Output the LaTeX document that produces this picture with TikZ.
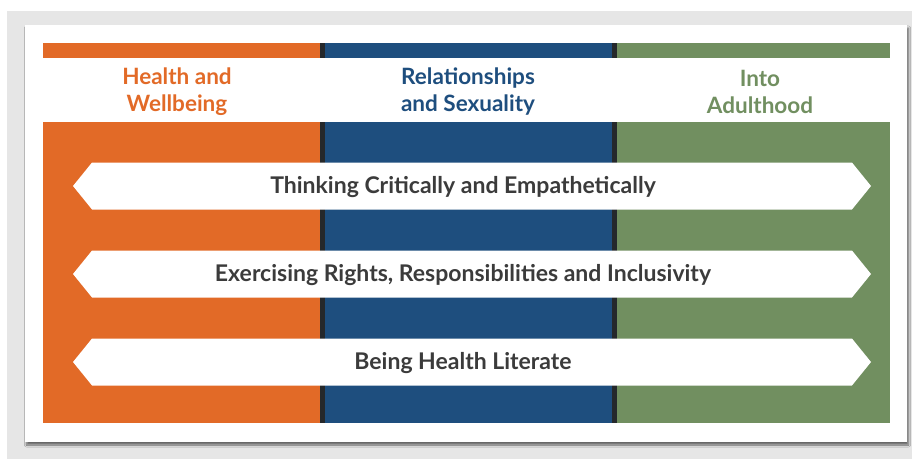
\documentclass[tikz,border=0pt]{standalone}
\usepackage{fontspec}
\setmainfont{Lato}
\usetikzlibrary{shapes.arrows,shadows.blur}

\definecolor{healthorange}{HTML}{E26A27}
\definecolor{relblue}{HTML}{1E4E7E}
\definecolor{adultgreen}{HTML}{718F60}
\definecolor{splitdark}{HTML}{25282B}
\definecolor{textgrey}{HTML}{3B3B3B}
\definecolor{pagegrey}{HTML}{E6E6E6}

\begin{document}
\begin{tikzpicture}[x=1pt, y=-1pt,
    head/.style={font=\bfseries\fontsize{22.5}{27}\selectfont, align=center},
    band/.style={double arrow, fill=white, double arrow head extend=0pt,
      double arrow tip angle=102, minimum height=798pt, minimum width=47pt,
      inner sep=0pt},
    bandtext/.style={text=textgrey, font=\bfseries\fontsize{23}{25}\selectfont}
  ]
  \useasboundingbox (0,0) rectangle (912,459);

  % page and card
  \fill[pagegrey] (7,11) rectangle (912,459);
  \fill[white, blur shadow={shadow xshift=1.5pt, shadow yshift=-3pt,
    shadow blur steps=6, shadow opacity=55}] (25,25) rectangle (907,442);

  % column strips and blocks
  \fill[healthorange] (43,43) rectangle (320,58);
  \fill[relblue] (325,43) rectangle (612,58);
  \fill[adultgreen] (617,43) rectangle (890,58);
  \fill[healthorange] (43,122) rectangle (320,423);
  \fill[relblue] (325,122) rectangle (612,423);
  \fill[adultgreen] (617,122) rectangle (890,423);

  % dark splits
  \fill[splitdark] (320,43) rectangle (325,58);
  \fill[splitdark] (612,43) rectangle (617,58);
  \fill[splitdark] (320,122) rectangle (325,423);
  \fill[splitdark] (612,122) rectangle (617,423);

  % headings
  \node[head, text=healthorange] (health) at (177,92) {Health and\\Wellbeing};
  \node[head, text=relblue] (relations) at (468,92) {Relationships\\and Sexuality};
  \node[head, text=adultgreen] (adult) at (760,92) {Into\\Adulthood};

  % cross-cutting bands
  \node[band] (thinking) at (472,186) {};
  \node[band] (rights) at (472,274) {};
  \node[band] (literate) at (472,362) {};
  \node[bandtext] (thinking_txt) at ([xshift=-9pt, yshift=-1pt]thinking.center) {Thinking Critically and Empathetically};
  \node[bandtext] (rights_txt) at ([xshift=-9pt, yshift=-1pt]rights.center) {Exercising Rights, Responsibilities and Inclusivity};
  \node[bandtext] (literate_txt) at ([xshift=-9pt, yshift=-1pt]literate.center) {Being Health Literate};
\end{tikzpicture}
\end{document}
